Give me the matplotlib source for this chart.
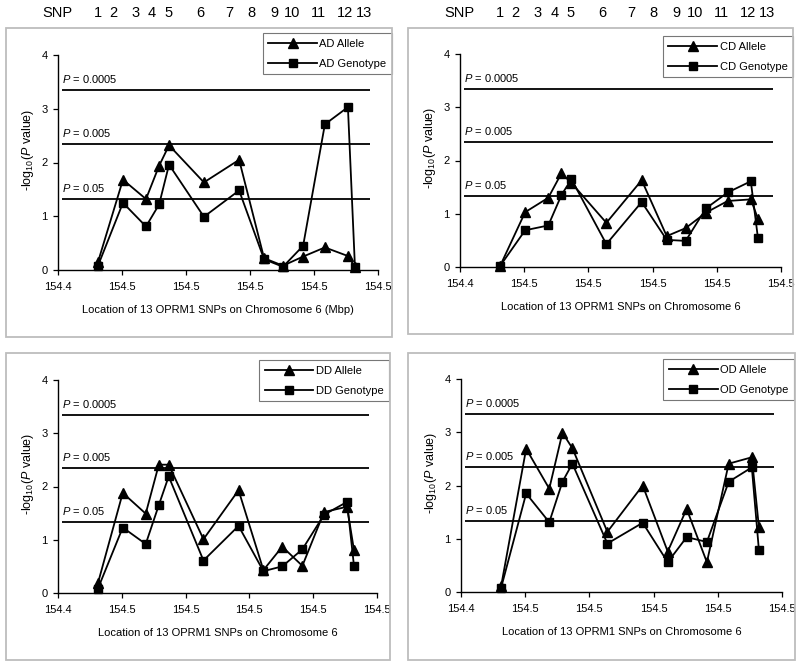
import matplotlib
matplotlib.use('Agg')
import matplotlib.pyplot as plt
from matplotlib.patches import Rectangle
from matplotlib.ticker import FormatStrFormatter

plt.rcParams['font.family'] = ['Liberation Sans', 'DejaVu Sans']
plt.rcParams['mathtext.fontset'] = 'custom'
plt.rcParams['mathtext.rm'] = 'Liberation Sans'
plt.rcParams['mathtext.it'] = 'Liberation Sans:italic'

# SNP positions (Mbp) and -log10(P) values
snp_pos = [154.4525, 154.4603, 154.4675, 154.4716, 154.4747, 154.4856, 154.4966,
           154.5044, 154.5103, 154.5166, 154.5234, 154.5306, 154.5328]
snp_ids = [str(i) for i in range(1, 14)]
snp_label_pos = [154.4525, 154.4572, 154.4641, 154.4694, 154.4744, 154.4844, 154.4934,
                 154.5003, 154.5075, 154.5131, 154.5213, 154.5297, 154.5356]

ad_allele = [0.15, 1.68, 1.32, 1.94, 2.32, 1.63, 2.05, 0.22, 0.08, 0.25, 0.42, 0.26, 0.06]
ad_genotype = [0.08, 1.25, 0.81, 1.22, 1.96, 0.99, 1.48, 0.20, 0.06, 0.45, 2.71, 3.03, 0.05]
cd_allele = [0.02, 1.03, 1.30, 1.76, 1.58, 0.83, 1.63, 0.58, 0.73, 1.02, 1.24, 1.27, 0.91]
cd_genotype = [0.02, 0.69, 0.78, 1.35, 1.65, 0.43, 1.22, 0.51, 0.49, 1.10, 1.40, 1.61, 0.55]
dd_allele = [0.18, 1.88, 1.49, 2.41, 2.41, 1.01, 1.93, 0.43, 0.87, 0.51, 1.52, 1.62, 0.80]
dd_genotype = [0.08, 1.23, 0.92, 1.65, 2.19, 0.61, 1.26, 0.41, 0.50, 0.82, 1.47, 1.71, 0.50]
od_allele = [0.11, 2.69, 1.94, 2.99, 2.70, 1.13, 2.00, 0.76, 1.56, 0.56, 2.41, 2.53, 1.22]
od_genotype = [0.08, 1.85, 1.31, 2.07, 2.41, 0.91, 1.30, 0.56, 1.03, 0.94, 2.07, 2.34, 0.79]

thresholds = [3.35, 2.35, 1.33]
threshold_labels = ['$P$ = 0.0005', '$P$ = 0.005', '$P$ = 0.05']

x_ticks = [154.44, 154.46, 154.48, 154.50, 154.52, 154.54]

W, H = 800, 665
fig = plt.figure(figsize=(8, 6.65), dpi=100)


def px_rect(x0, y0, x1, y1):
    # pixel box (top-left origin) -> figure fraction [l, b, w, h]
    return [x0 / W, 1 - y1 / H, (x1 - x0) / W, (y1 - y0) / H]


panels = [
    dict(code='AD', allele=ad_allele, genotype=ad_genotype,
         box=(6, 28, 392, 337), ax=(58, 55, 378, 270), leg=(392, 33),
         xlabel='Location of 13 OPRM1 SNPs on Chromosome 6 (Mbp)', snp=True),
    dict(code='CD', allele=cd_allele, genotype=cd_genotype,
         box=(408, 28, 793, 334), ax=(460, 54, 781, 267), leg=(793, 36),
         xlabel='Location of 13 OPRM1 SNPs on Chromosome 6', snp=True),
    dict(code='DD', allele=dd_allele, genotype=dd_genotype,
         box=(6, 353, 390, 660), ax=(58, 380, 377, 593), leg=(389, 360),
         xlabel='Location of 13 OPRM1 SNPs on Chromosome 6', snp=False),
    dict(code='OD', allele=od_allele, genotype=od_genotype,
         box=(408, 353, 795, 660), ax=(461, 379, 782, 592), leg=(794, 359),
         xlabel='Location of 13 OPRM1 SNPs on Chromosome 6', snp=False),
]

for p in panels:
    bx = px_rect(*p['box'])
    fig.patches.append(Rectangle((bx[0], bx[1]), bx[2], bx[3], transform=fig.transFigure,
                                 fill=False, edgecolor='#bdbdbd', linewidth=1.3))

    ax = fig.add_axes(px_rect(*p['ax']))
    ax.set_xlim(154.44, 154.54)
    ax.set_ylim(0, 4)

    for t, lab in zip(thresholds, threshold_labels):
        ax.hlines(t, 154.4413, 154.5375, color='black', linewidth=1.3)
        ax.text(154.4413, t + 0.09, lab, fontsize=8, va='bottom', ha='left')

    ax.plot(snp_pos, p['allele'], color='black', marker='^', markersize=6.5,
            linewidth=1.3, label=p['code'] + ' Allele', clip_on=False)
    ax.plot(snp_pos, p['genotype'], color='black', marker='s', markersize=5.5,
            linewidth=1.3, label=p['code'] + ' Genotype', clip_on=False)

    for s in ['top', 'right']:
        ax.spines[s].set_visible(False)
    for s in ['left', 'bottom']:
        ax.spines[s].set_linewidth(1.0)
    ax.set_xticks(x_ticks)
    ax.set_yticks([0, 1, 2, 3, 4])
    ax.xaxis.set_major_formatter(FormatStrFormatter('%.1f'))
    ax.tick_params(labelsize=8, length=3.5, width=0.9, direction='out', pad=4)
    ax.tick_params(axis='x', pad=5)

    ax.set_ylabel('-log$_{10}$($P$ value)', fontsize=9)
    ax.yaxis.set_label_coords(-0.07, 0.56)
    ax.set_xlabel(p['xlabel'], fontsize=8)
    ax.xaxis.set_label_coords(0.5, -0.163)

    lx, ly = p['leg']
    leg = ax.legend(loc='upper right', bbox_to_anchor=(lx / W, 1 - ly / H),
                    bbox_transform=fig.transFigure, fontsize=8, frameon=True,
                    fancybox=False, handlelength=4.4, numpoints=1, borderpad=0.5,
                    labelspacing=0.9, handletextpad=0.2, borderaxespad=0)
    leg.get_frame().set_edgecolor('#555555')
    leg.get_frame().set_linewidth(0.8)

    if p['snp']:
        ty = 1 - 13 / H
        trans = matplotlib.transforms.blended_transform_factory(ax.transData, fig.transFigure)
        ax.text(154.4399, ty, 'SNP', transform=trans, fontsize=10.5, ha='center', va='center')
        for xs, lab in zip(snp_label_pos, snp_ids):
            ax.text(xs, ty, lab, transform=trans, fontsize=10.5, ha='center', va='center')

fig.savefig('out.png', dpi=100)
